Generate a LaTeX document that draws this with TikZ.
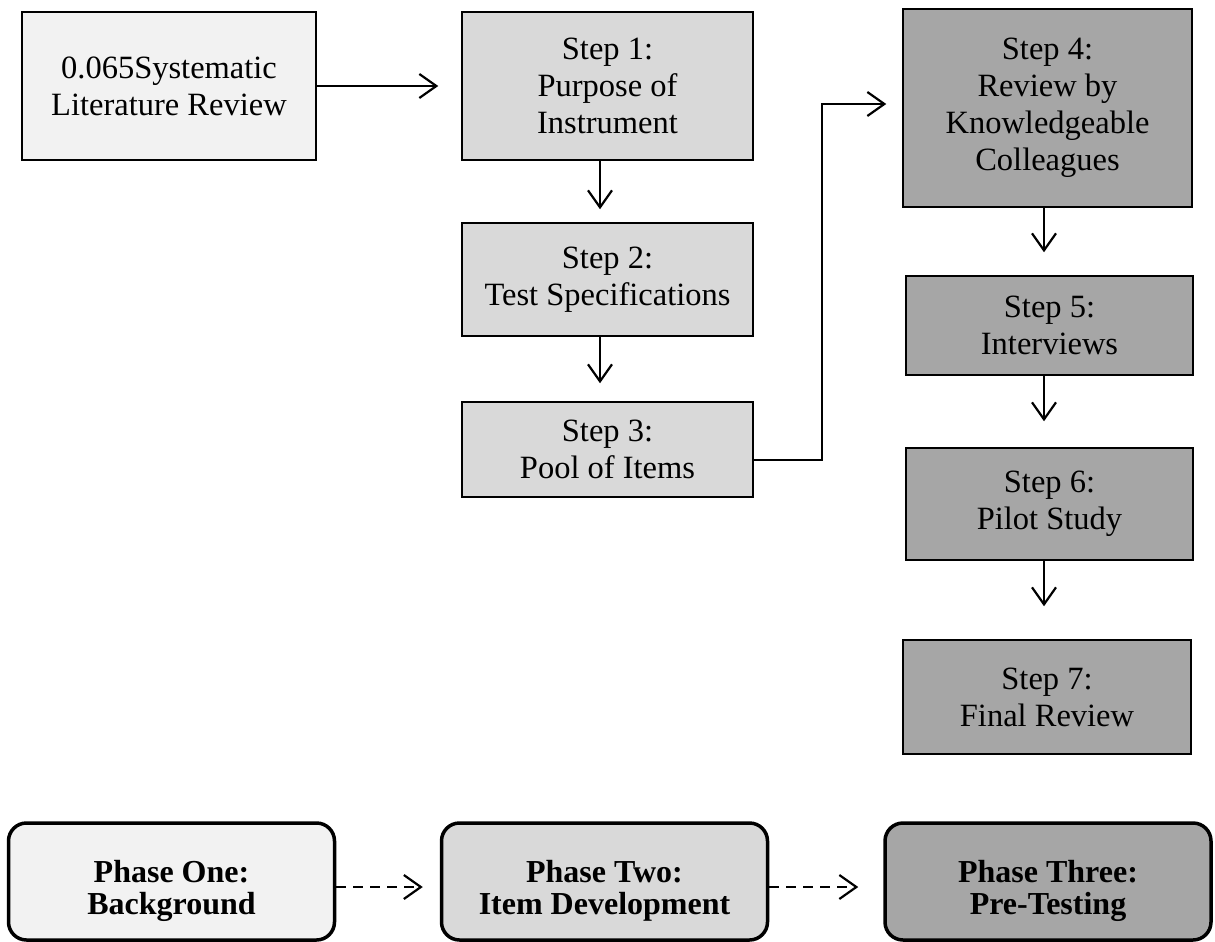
\documentclass[tikz,border=0pt]{standalone}
\usepackage{fontspec}
\setmainfont{Liberation Serif}
\usetikzlibrary{arrows.meta}
\definecolor{cLight}{HTML}{F2F2F2}
\definecolor{cMid}{HTML}{D9D9D9}
\definecolor{cDark}{HTML}{A6A6A6}
\newcommand{\phasetext}[2]{\raisebox{-11pt}[\height][\depth]{\begin{tabular}{@{}c@{}}#1\\#2\end{tabular}}}
\tikzset{
  box/.style={draw=black, line width=1.5pt, inner sep=0pt, align=center,
    font=\fontsize{32.5pt}{37pt}\selectfont},
  phasebox/.style={draw=black, line width=3.5pt, rounded corners=18pt, inner sep=0pt,
    font=\fontsize{32pt}{32pt}\selectfont\bfseries,
    minimum width=326pt, minimum height=117pt},
  arr/.style={line width=2.2pt, -{Straight Barb[length=17pt,width=24pt]}},
  darr/.style={arr, dash pattern=on 10pt off 7pt}
}
\begin{document}
\begin{tikzpicture}[x=1pt,y=-1pt]
\useasboundingbox (0,0) rectangle (1215,942);
% left column
\node[box, fill=cLight, minimum width=294pt, minimum height=148pt] (lit) at (169,86)
  {0.065Systematic\\Literature Review};
\node[box, fill=cMid, minimum width=291pt, minimum height=148pt] (s1) at (607.5,86)
  {Step 1:\\Purpose of\\Instrument};
\node[box, fill=cMid, minimum width=291pt, minimum height=113pt] (s2) at (607.5,279.5)
  {Step 2:\\Test Specifications};
\node[box, fill=cMid, minimum width=291pt, minimum height=95pt] (s3) at (607.5,449.5)
  {Step 3:\\Pool of Items};
% right column
\node[box, fill=cDark, minimum width=289pt, minimum height=198pt] (s4) at (1047.5,108)
  {Step 4:\\Review by\\Knowledgeable\\Colleagues};
\node[box, fill=cDark, minimum width=287pt, minimum height=99pt] (s5) at (1049.5,325.5)
  {Step 5:\\Interviews};
\node[box, fill=cDark, minimum width=287pt, minimum height=112pt] (s6) at (1049.5,504)
  {Step 6:\\Pilot Study};
\node[box, fill=cDark, minimum width=288pt, minimum height=114pt] (s7) at (1047,697)
  {Step 7:\\Final Review};
% phases
\node[phasebox, fill=cLight] (p1) at (171.5,881.5) {\phasetext{Phase One:}{Background}};
\node[phasebox, fill=cMid] (p2) at (604.5,881.5) {\phasetext{Phase Two:}{Item Development}};
\node[phasebox, fill=cDark] (p3) at (1048,881.5) {\phasetext{Phase Three:}{Pre-Testing}};
% connectors
\draw[arr, shorten >=23pt] (lit.east) -- (s1.west);
\draw[arr, shorten >=13pt] ([xshift=-7.5pt]s1.south) -- ([xshift=-7.5pt]s1.south |- s2.north);
\draw[arr, shorten >=18pt] ([xshift=-7.5pt]s2.south) -- ([xshift=-7.5pt]s2.south |- s3.north);
\draw[arr, shorten >=16pt] ([yshift=-10.5pt]s3.east) -- ++(68,0) |- ([yshift=4pt]s4.west);
\draw[arr, shorten >=23pt] ([xshift=-3.5pt]s4.south) -- ([xshift=-3.5pt]s4.south |- s5.north);
\draw[arr, shorten >=26pt] ([xshift=-5.5pt]s5.south) -- ([xshift=-5.5pt]s5.south |- s6.north);
\draw[arr, shorten >=33pt] ([xshift=-5.5pt]s6.south) -- ([xshift=-5.5pt]s6.south |- s7.north);
\draw[darr, shorten >=17pt] ([yshift=-5.5pt]p1.east) -- ([yshift=-5.5pt]p2.west);
\draw[darr, shorten >=25pt] ([yshift=-5.5pt]p2.east) -- ([yshift=-5.5pt]p3.west);
\end{tikzpicture}
\end{document}
